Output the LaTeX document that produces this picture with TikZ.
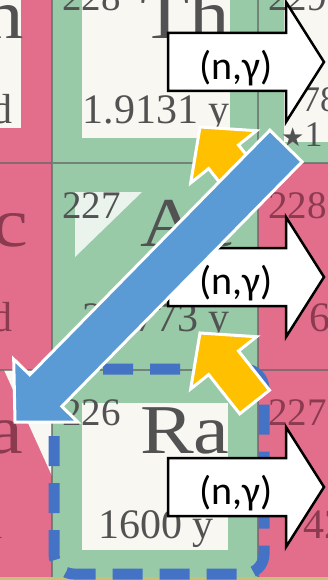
\documentclass[tikz,border=0pt]{standalone}
\usepackage{fontspec}
\setmainfont{Liberation Serif}
\newfontfamily\calibri{Carlito}
\newfontfamily\symfont{DejaVu Sans}
\definecolor{chartpink}{RGB}{226,110,140}
\definecolor{chartgreen}{RGB}{152,202,168}
\definecolor{chartwhite}{RGB}{248,247,242}
\definecolor{chartstrip}{RGB}{200,192,120}
\definecolor{inkgray}{RGB}{82,82,82}
\definecolor{inkred}{RGB}{140,58,80}
\definecolor{arrowblue}{RGB}{91,155,213}
\definecolor{boxblue}{RGB}{68,114,196}
\definecolor{arrowgold}{RGB}{255,192,0}
\tikzset{
  massno/.style={anchor=base west, inner sep=0pt, font=\fontsize{39}{40}\selectfont},
  elem/.style={anchor=base west, inner sep=0pt, font=\fontsize{70}{70}\selectfont},
  halflife/.style={anchor=base, inner sep=0pt, font=\fontsize{42}{42}\selectfont},
  gridline/.style={draw=black!60, line width=1.2pt, opacity=.7},
  focusbox/.style={draw=boxblue, line width=11pt, dash pattern=on 30pt off 17pt, rounded corners=20pt},
  ngarrow/.style={draw=black, line width=2.5pt, fill=white, line join=miter},
  nglabel/.style={inner sep=0pt, font=\calibri\fontsize{40}{42}\selectfont},
  goldarrow/.style={draw=white, line width=3pt, fill=arrowgold, line join=miter},
  bluearrow/.style={draw=white, line width=3pt, fill=arrowblue, line join=miter}
}
\begin{document}
\begin{tikzpicture}[x=1pt,y=-1pt]
\useasboundingbox (0,0) rectangle (328,580);
\clip (0,0) rectangle (328,580);
% chart cells
\fill[chartpink] (0,0) rectangle (52,163);
\fill[chartwhite] (0,0) rectangle (21,128);
\fill[chartgreen] (52,0) rectangle (258,163);
\fill[chartwhite] (82,0) rectangle (230,138);
\fill[chartgreen] (258,0) rectangle (328,163);
\fill[chartwhite] (284,0) rectangle (328,142);
\fill[chartpink] (0,163) rectangle (52,370);
\fill[chartgreen] (52,163) rectangle (258,370);
\fill[white, opacity=.8] (75,192) -- (142,192) -- (75,257) -- cycle;
\fill[chartpink] (258,163) rectangle (328,370);
\fill[chartpink] (0,370) rectangle (52,577);
\fill[chartwhite] (4,370) -- (52,370) -- (52,476) -- cycle;
\fill[chartgreen] (52,370) rectangle (258,577);
\fill[chartwhite] (82,403) rectangle (228,550);
\fill[chartpink] (258,370) rectangle (328,577);
\fill[chartstrip] (0,577) rectangle (328,580);
\draw[gridline] (52,0) -- (52,577) (258,0) -- (258,577) (0,163) -- (328,163) (0,370) -- (328,370);
% cell texts
\foreach \cx/\cy/\ma/\el/\hl/\ink [count=\i] in {
    -154/-44/227/Th/18.68 d/inkgray,
    52/-44/228/Th/1.9131 y/inkgray,
    -154/163/226/Ac/1.224 d/inkred,
    52/163/227/Ac/21.773 y/inkgray,
    258/163/228/Ac/6.15 h/inkred,
    -154/370/225/Ra/14.9 d/inkred,
    52/370/226/Ra/1600 y/inkgray,
    258/370/227/Ra/42.2 m/inkred}
{
    \node[massno, text=\ink] (mass\i) at ({\cx+10},{\cy+55}) {\ma};
    \node[elem, text=\ink] (elem\i) at ({\cx+88},{\cy+83}) {\scalebox{1.15}[1]{\el}};
    \node[halflife, text=\ink] (hl\i) at ({\cx+104},{\cy+168}) {\hl};
}
\node[massno, text=inkgray] (mass9) at (268,11) {229};
\node[anchor=base west, inner sep=0pt, text=inkgray, font=\fontsize{36}{36}\selectfont] (hl9) at (302,112) {7880 y};
\node[anchor=base west, inner sep=0pt, text=inkgray, font=\fontsize{36}{36}\selectfont] (sig9) at (281,147) {{\symfont\fontsize{26}{26}\selectfont ★}1};
% Ra-226 frame
\draw[focusbox] (54,369) rectangle (264,574);
% capture arrows
\foreach \yc [count=\i] in {62,277,487} {
    \draw[ngarrow] (168,{\yc-29}) -- (286,{\yc-29}) -- (286,{\yc-60}) -- (324,\yc) -- (286,{\yc+60}) -- (286,{\yc+29}) -- (168,{\yc+29}) -- cycle;
    \node[nglabel] (ng\i) at (236,{\yc+6}) {(n,γ)};
}
% decay arrows
\foreach \dy in {0,206} {
    \begin{scope}[shift={(0,\dy)}]
    \draw[goldarrow] (200,127) -- (256.5,130.7) -- (238.5,145.0) -- (269.5,184.2) -- (239.7,207.8) -- (208.7,168.6) -- (190.7,182.9) -- cycle;
    \end{scope}
}
\draw[bluearrow] (15,422) -- (13.7,359.1) -- (29.8,374.8) -- (269.9,130.2) -- (302.1,161.8) -- (61.9,406.4) -- (77.9,422.1) -- cycle;
\end{tikzpicture}
\end{document}
